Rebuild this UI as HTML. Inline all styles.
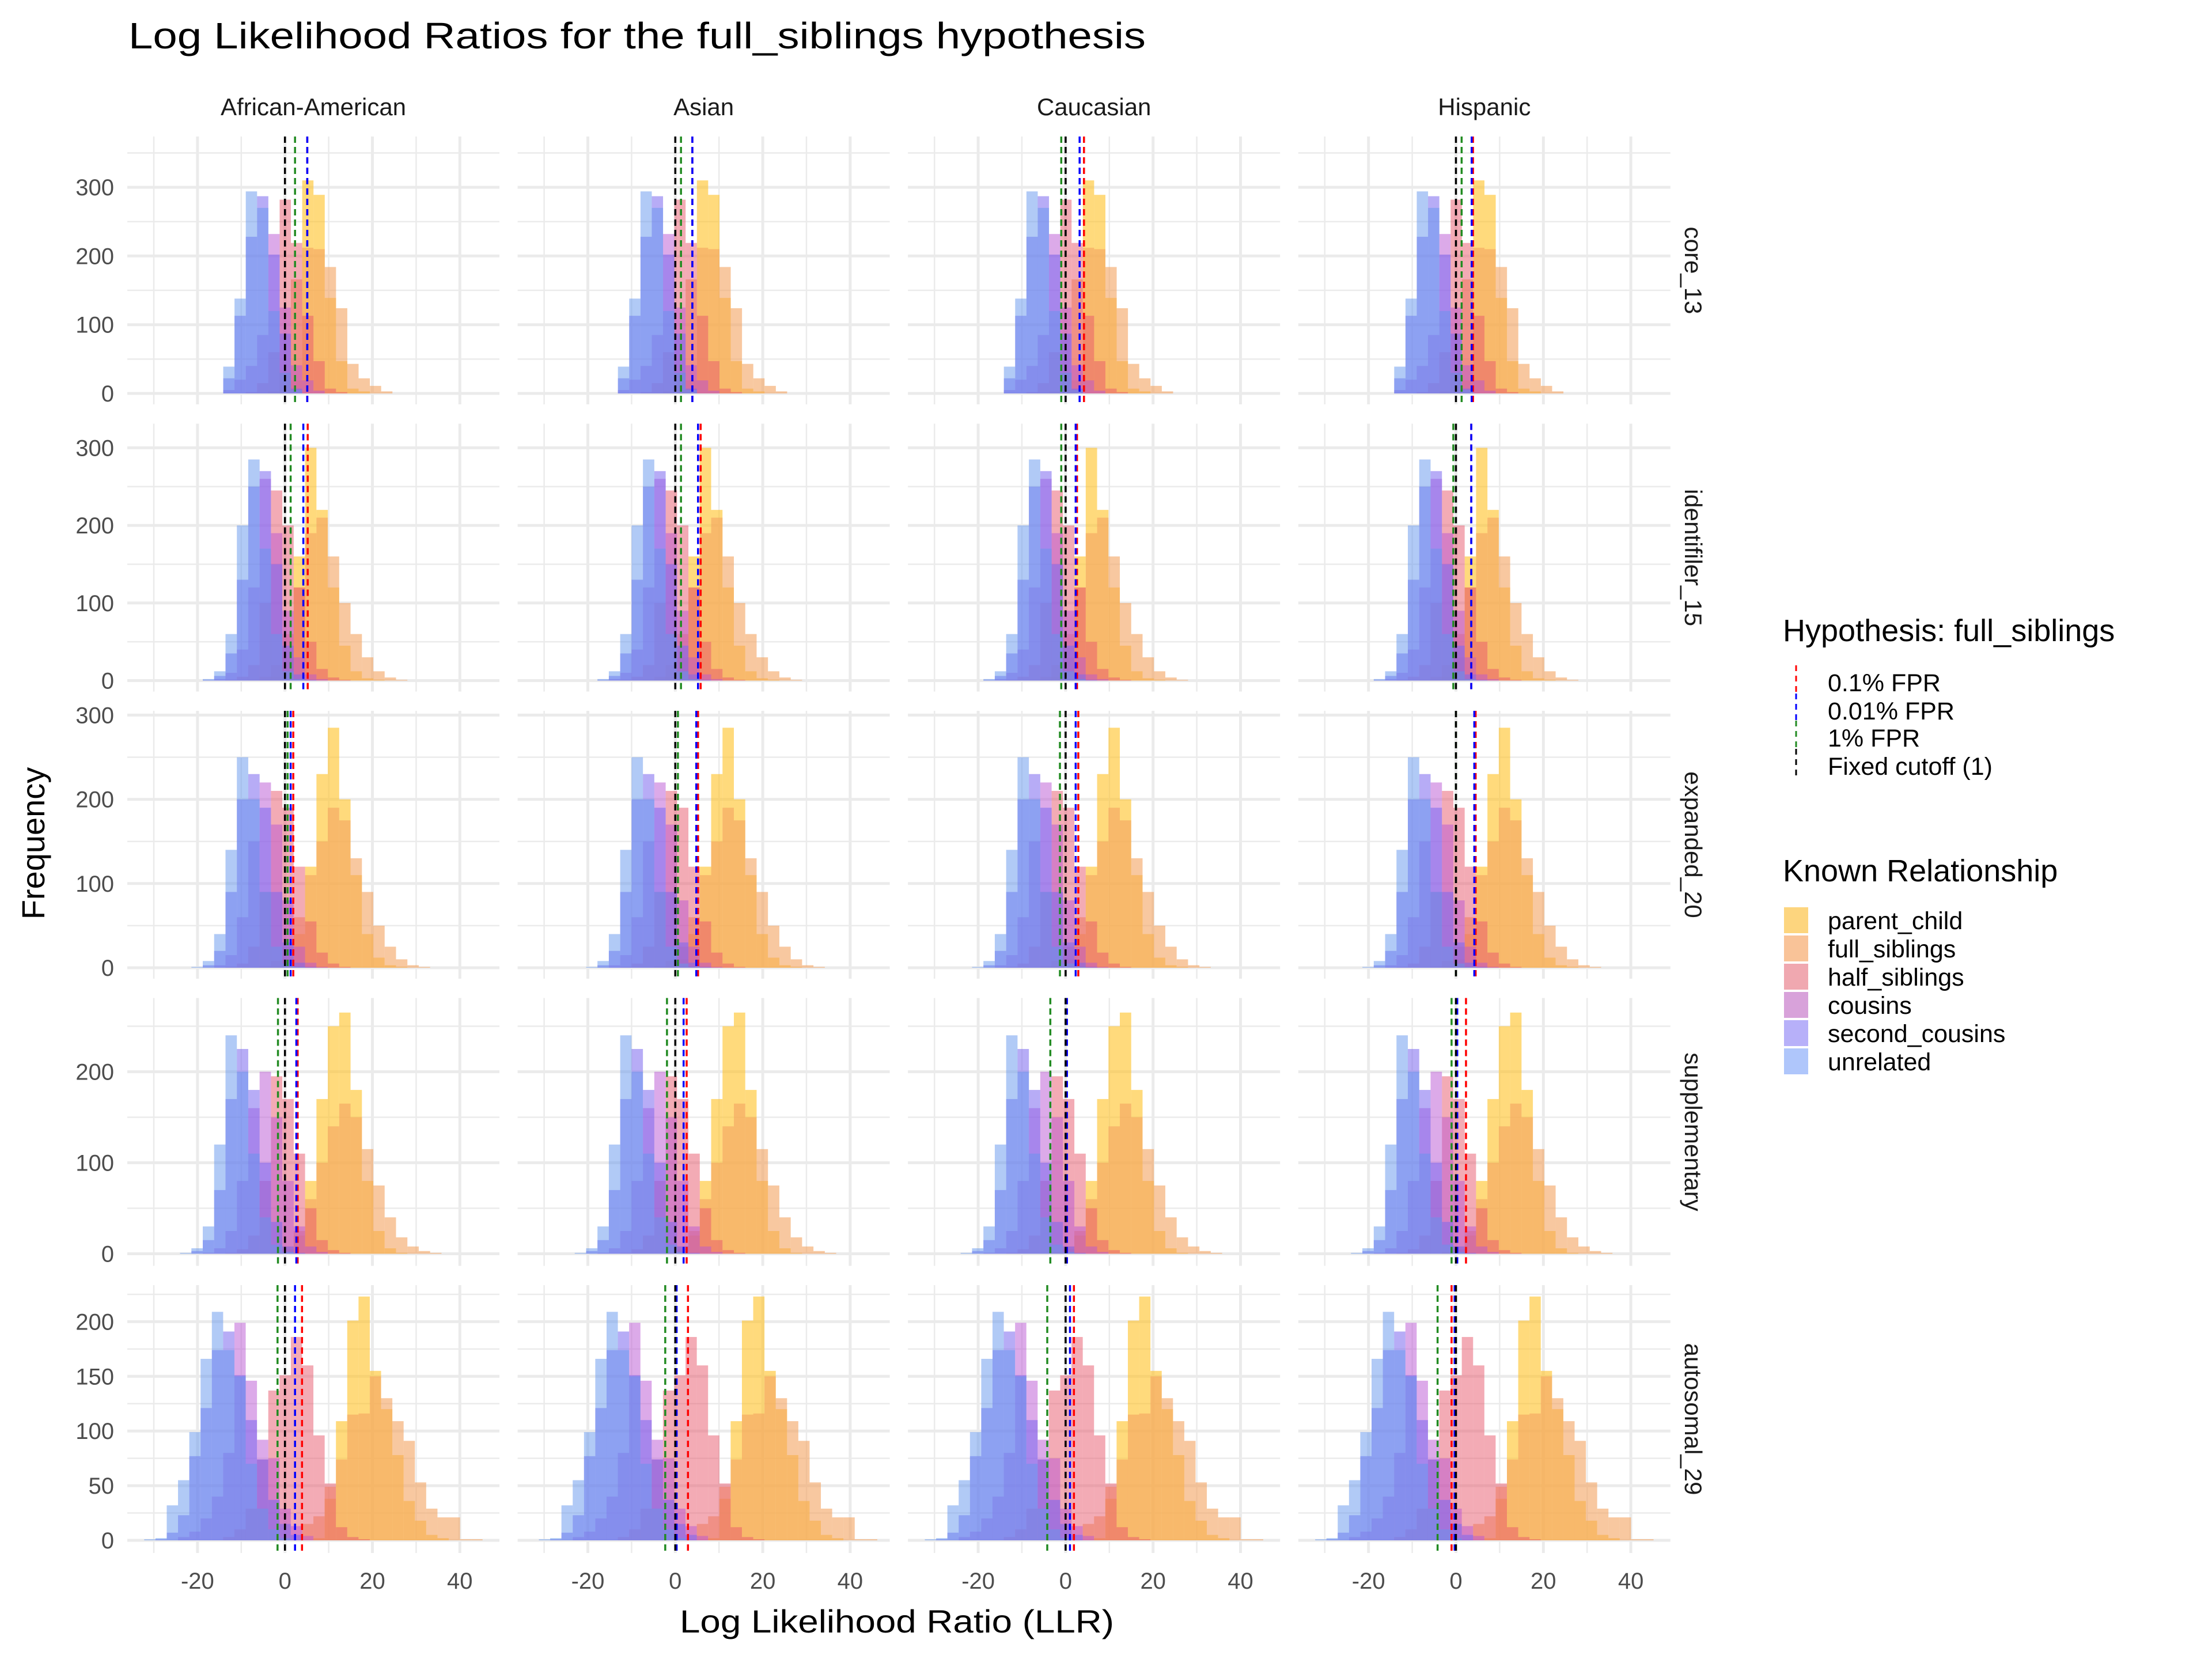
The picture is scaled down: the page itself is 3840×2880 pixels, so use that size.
<!DOCTYPE html>
<html><head><meta charset="utf-8"><style>
html,body{margin:0;padding:0;background:#fff;}
svg{display:block;font-family:"Liberation Sans",sans-serif;}
</style></head><body>
<svg id="chart" xmlns="http://www.w3.org/2000/svg" width="3840" height="2880" viewBox="0 0 3840 2880">
<rect width="3840" height="2880" fill="#fff"/>
<text x="223" y="84" font-size="64" fill="#000" textLength="1766" lengthAdjust="spacingAndGlyphs">Log Likelihood Ratios for the full_siblings hypothesis</text>
<text x="1557" y="2834" font-size="56" fill="#000" text-anchor="middle" textLength="754" lengthAdjust="spacingAndGlyphs">Log Likelihood Ratio (LLR)</text>
<text transform="translate(77,1464) rotate(-90)" font-size="56" fill="#000" text-anchor="middle">Frequency</text>
<g id="panels"></g>
<g id="legend">
<text x="3095" y="1113" font-size="54" fill="#000">Hypothesis: full_siblings</text>
<text x="3095" y="1530" font-size="54" fill="#000">Known Relationship</text>
</g>
</svg>
<script>
var NS='http://www.w3.org/2000/svg';
var columns=['African-American','Asian','Caucasian','Hispanic'];
var rows=['core_13','identifiler_15','expanded_20','supplementary','autosomal_29'];
var series=['parent_child','full_siblings','half_siblings','cousins','second_cousins','unrelated'];
var binStart=[-16.7,-24,-24,-24,-32.2];
var binWidth=[2.58,2.6,2.6,2.6,2.58];
var yTicks=[[0,100,200,300],[0,100,200,300],[0,100,200,300],[0,100,200],[0,50,100,150,200]];
var xTicks=[-20,0,20,40];
var colShift=[0,1,0,0];
// counts per row, per series (bins from binStart)
var r0_parent=[0,0,0,0,0,0,5,19,310,289,139,47,7,3,0,0];
var r0_full=[0,0,0,0,0,3,30,166,212,210,184,124,43,22,11,3];
var r0_half=[0,0,0,2,15,60,282,219,113,47,7,2,0,0,0,0];
var r0_cous=[0,5,20,40,85,232,125,41,19,4,0,0,0,0,0,0];
var r0_sec=[0,22,113,228,287,202,87,7,0,0,0,0,0,0,0,0];
var r0_unrel=[0,39,138,294,270,120,30,5,0,0,0,0,0,0,0,0];
var r1_parent=[0,0,0,0,0,0,0,1,5,30,160,300,220,120,45,12,3,1,0];
var r1_full=[0,0,0,0,0,0,1,5,20,60,120,190,210,160,100,60,30,12,4,1];
var r1_half=[0,0,0,0,1,5,20,100,245,200,120,50,15,4,1,0];
var r1_cous=[0,0,0,2,10,40,120,260,190,90,30,8,2,0];
var r1_sec=[0,0,1,6,35,130,250,270,150,45,8,1,0];
var r1_unrel=[0,0,2,12,60,200,285,170,60,12,2,0];
var r2_parent=[0,0,0,0,0,0,0,0,2,10,40,120,230,285,200,110,40,12,3,1];
var r2_full=[0,0,0,0,0,0,0,2,8,25,60,110,150,190,175,130,90,50,25,10,3,1];
var r2_half=[0,0,0,0,1,5,25,90,210,190,120,55,18,5,1];
var r2_cous=[0,0,0,3,15,60,150,220,170,80,25,6,1];
var r2_sec=[0,0,3,20,90,200,230,190,90,30,6,1];
var r2_unrel=[0,1,8,40,140,250,200,90,25,5,1];
var r3_parent=[0,0,0,0,0,0,0,0,1,5,20,80,170,250,265,180,80,25,6,1];
var r3_full=[0,0,0,0,0,0,0,0,2,8,25,60,100,140,165,150,115,75,40,18,8,3,1];
var r3_half=[0,0,0,0,1,5,20,80,195,170,110,50,15,4,1];
var r3_cous=[0,0,1,6,25,80,160,200,150,80,30,8,2];
var r3_sec=[0,3,15,70,170,225,180,100,35,8,1];
var r3_unrel=[1,6,30,120,240,200,110,40,10,2];
var r4_parent=[0,0,0,0,0,0,0,0,0,0,0,0,0,0,0,2,38,109,201,223,155,120,78,36,18,5,2];
var r4_full=[0,0,0,0,0,0,0,0,0,0,0,0,0,0,15,22,49,74,115,116,150,130,109,91,53,29,21,21,1,1];
var r4_half=[0,0,0,0,0,0,0,3,10,29,74,137,151,186,160,96,52,12,3,1];
var r4_cous=[0,0,0,3,8,20,40,80,199,146,92,75,29,13,4];
var r4_sec=[0,1,7,23,77,121,174,191,151,110,74,37,15,5];
var r4_unrel=[1,2,32,55,99,166,209,174,150,70,29,10,2];
var counts=[
 [r0_parent,r0_full,r0_half,r0_cous,r0_sec,r0_unrel],
 [r1_parent,r1_full,r1_half,r1_cous,r1_sec,r1_unrel],
 [r2_parent,r2_full,r2_half,r2_cous,r2_sec,r2_unrel],
 [r3_parent,r3_full,r3_half,r3_cous,r3_sec,r3_unrel],
 [r4_parent,r4_full,r4_half,r4_cous,r4_sec,r4_unrel]];
// threshold lines per panel [row][col]
var cut_red=[[5.1,3.9,4.2,3.9],[5.2,5.8,2.6,3.5],[1.9,5.2,2.9,4.5],[2.9,2.6,0.3,2.3],[3.9,2.9,1.9,-1.0]];
var cut_blue=[[5.1,3.9,3.2,3.6],[4.2,5.2,2.3,3.5],[1.3,4.8,2.3,4.2],[2.6,1.9,0.3,0.3],[2.3,0.3,1.0,-0.3]];
var cut_green=[[2.3,1.3,-1.0,1.3],[1.3,1.3,-1.0,-0.6],[0.6,0.6,-1.3,0.0],[-1.6,-1.9,-3.5,-1.0],[-1.7,-2.3,-4.2,-4.2]];
var cut_black=[[0,0,0,0],[0,0,0,0],[0,0,0,0],[0,0,0,0],[0,0,0,0]];
var fills=['rgba(255,193,37,0.6)','rgba(244,164,96,0.6)','rgba(232,88,108,0.5)','rgba(186,85,211,0.5)','rgba(123,104,238,0.55)','rgba(100,149,237,0.5)'];
var legendFill=['#FDD57E','#F9C398','#F0A8B0','#D8A2DA','#B7B0F9','#AFC6FB'];
var lineCol=['#FF0000','#0000FF','#228B22','#000000'];
var lineLab=['0.1% FPR','0.01% FPR','1% FPR','Fixed cutoff (1)'];

var PL=221,PW=646,PSTEP=677.6,PT=237,PH=465,RSTEP=498.5,XPU=7.59,XOFF=273.7;
var Y0OFF=[446,446,446,444,443];
var YPU=[1.193,1.347,1.462,1.58,1.898];
function xs(c,v){return PL+c*PSTEP+XOFF+v*XPU;}
function ys(r,v){return PT+r*RSTEP+Y0OFF[r]-v*YPU[r];}
function mk(tag,attrs,parent){var e=document.createElementNS(NS,tag);for(var k in attrs)e.setAttribute(k,attrs[k]);parent.appendChild(e);return e;}
var G=document.getElementById('panels');
function drawPanel(r,c){
  var g=mk('g',{},G);
  
  
  var pLeft=PL+c*PSTEP,pTop=PT+r*RSTEP;
  [-30,-10,10,30].forEach(function(v){var l=mk('line',{x1:xs(c,v),x2:xs(c,v),y1:pTop,y2:pTop+PH,stroke:'#EBEBEB','stroke-width':2.5},g);
    
    });
  var yt=yTicks[r],step=yt[1]-yt[0];
  for(var i=0;i<yt.length;i++){var yy=ys(r,yt[i]+step/2);if(yy>pTop){var l=mk('line',{x1:pLeft,x2:pLeft+PW,y1:yy,y2:yy,stroke:'#EBEBEB','stroke-width':2.5},g);
    
    }}
  xTicks.forEach(function(v){var l=mk('line',{x1:xs(c,v),x2:xs(c,v),y1:pTop,y2:pTop+PH,stroke:'#EBEBEB','stroke-width':5},g);
    
    });
  yt.forEach(function(v){var l=mk('line',{x1:pLeft,x2:pLeft+PW,y1:ys(r,v),y2:ys(r,v),stroke:'#EBEBEB','stroke-width':5},g);
    
    });
  for(var s=0;s<series.length;s++){
   var arr=counts[r][s];
   for(var b=0;b<arr.length;b++){
    if(arr[b]<=0)continue;
    var x1=xs(c,binStart[r]+colShift[c]+b*binWidth[r]),x2=xs(c,binStart[r]+colShift[c]+(b+1)*binWidth[r]);
    var rc=mk('rect',{x:x1,y:ys(r,arr[b]),width:x2-x1,height:ys(r,0)-ys(r,arr[b]),fill:fills[s]},g);
    
    
   }
  }
  var cuts=[cut_red[r][c],cut_blue[r][c],cut_green[r][c],cut_black[r][c]];
  for(var k=0;k<4;k++){
   var ln=mk('line',{x1:xs(c,cuts[k]),x2:xs(c,cuts[k]),y1:pTop,y2:pTop+PH,stroke:lineCol[k],'stroke-width':3.5,'stroke-dasharray':'11 7'},g);
   
   
  }
  if(c===0){yt.forEach(function(v){var t=mk('text',{x:198,y:ys(r,v)+14,'font-size':40,fill:'#4D4D4D','text-anchor':'end'},g);t.textContent=v;
    
    });}
  if(r===rows.length-1){xTicks.forEach(function(v){var t=mk('text',{x:xs(c,v),y:2758,'font-size':40,fill:'#4D4D4D','text-anchor':'middle'},g);t.textContent=v;
    
    });}
  if(r===0){var t=mk('text',{x:pLeft+PW/2,y:200,'font-size':42,fill:'#1A1A1A','text-anchor':'middle'},g);t.textContent=columns[c];
    
    }
  if(c===columns.length-1){var t=mk('text',{transform:'translate(2925,'+(pTop+PH/2)+') rotate(90)','font-size':42,fill:'#1A1A1A','text-anchor':'middle'},g);t.textContent=rows[r];
    
    }
}
for(var r=0;r<rows.length;r++){for(var c=0;c<columns.length;c++){drawPanel(r,c);}}
var L=document.getElementById('legend');
var hb=[1200,1249,1296,1345];
for(var k=0;k<4;k++){
 var ln=mk('line',{x1:3118,x2:3118,y1:hb[k]-45,y2:hb[k]+2,stroke:lineCol[k],'stroke-width':3,'stroke-dasharray':'10 8'},L);
 
 
 var t=mk('text',{x:3173,y:hb[k],'font-size':43,fill:'#000'},L);t.textContent=lineLab[k];
 
 
}
for(var s=0;s<series.length;s++){
 var ky=1575+s*49;
 var rc=mk('rect',{x:3097,y:ky,width:42,height:45,fill:legendFill[s]},L);
 
 
 var t=mk('text',{x:3173,y:ky+38,'font-size':43,fill:'#000'},L);t.textContent=series[s];
 
 
}
</script>
</body></html>
